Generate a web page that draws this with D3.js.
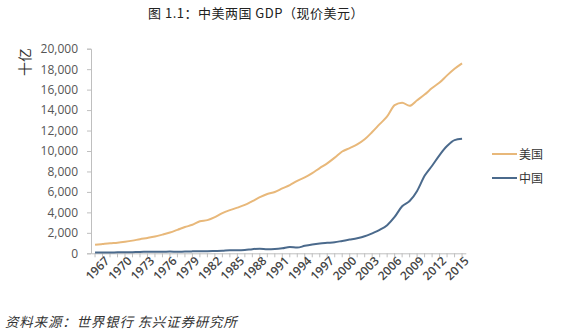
<!DOCTYPE html>
<html><head><meta charset="utf-8">
<script src="https://cdn.jsdelivr.net/npm/d3@7"></script>
<style>body{margin:0;background:#fff}svg{display:block}</style>
</head><body><svg id="c" width="568" height="333"></svg>
<script>
const years = d3.range(1967, 2017);
const usGDP = [832,910,985,1038,1127,1238,1383,1500,1638,1825,2031,2295,2566,2788,3127,3240,3536,3931,4218,4460,4736,5100,5482,5801,5992,6342,6667,7085,7415,7839,8332,8794,9354,9952,10286,10642,11142,11853,12623,13377,14478,14719,14419,14964,15518,16155,16692,17393,18037,18569];
const cnGDP = [72,70,79,92,99,112,137,142,161,152,172,148,177,189,194,203,229,257,307,298,324,404,451,395,413,488,613,559,728,856,953,1020,1083,1211,1339,1471,1660,1955,2286,2752,3552,4598,5110,6101,7573,8561,9607,10482,11065,11191];
const yTicks = [0,2000,4000,6000,8000,10000,12000,14000,16000,18000,20000];
const xLabelYears = d3.range(1967, 2017, 3);
const seriesNames = ["美国","中国"];
const colors = ["#E8B87A","#4B6A8C"];

const svg = d3.select("#c");
const x = d3.scaleBand().domain(years).range([91.3, 465.8]);
const y = d3.scaleLinear().domain([0,20000]).range([253.3, 48.7]);
const cx = d => x(d) + x.bandwidth()/2;

svg.append("text").attr("x",256).attr("y",18).attr("text-anchor","middle")
  .attr("font-family","'Noto Sans CJK SC'").attr("font-size",13).attr("letter-spacing",0.5).attr("fill","#222")
  .text("图 1.1：中美两国 GDP（现价美元）");

// y axis
const ya = svg.append("g").attr("transform","translate(91,0)")
  .call(d3.axisLeft(y).tickValues(yTicks).tickFormat(d3.format(",")).tickSize(4).tickPadding(9));
ya.select(".domain").attr("stroke","#bfbfbf");
ya.selectAll(".tick line").attr("stroke","#bfbfbf");
ya.selectAll("text").attr("font-family","'Open Sans', sans-serif").attr("font-size",12).attr("fill","#555");

// x axis
const xa = svg.append("g").attr("transform","translate(0,253.3)")
  .call(d3.axisBottom(x).tickSize(4).tickSizeOuter(0).tickFormat(d => xLabelYears.includes(d) ? d : ""));
xa.select(".domain").attr("stroke","#bfbfbf");
xa.selectAll(".tick line").attr("stroke","#bfbfbf");
xa.selectAll("text").attr("font-family","'Open Sans', sans-serif").attr("font-size",12).attr("font-weight","600").attr("fill","#444")
  .attr("text-anchor","end").attr("dx","0.4em").attr("dy","0.8em").attr("transform","rotate(-45)");

svg.append("text").attr("transform","translate(30,62) rotate(-90)").attr("text-anchor","middle")
  .attr("font-family","'Noto Sans CJK SC'").attr("font-size",14).attr("fill","#333").text("十亿");

const line = d3.line().x((d,i)=>cx(years[i])).y(d=>y(d)).curve(d3.curveMonotoneX);
[usGDP, cnGDP].forEach((s,i) => {
  svg.append("path").datum(s).attr("d",line).attr("fill","none").attr("stroke",colors[i]).attr("stroke-width",2);
});

// legend
const lg = svg.append("g");
seriesNames.forEach((n,i) => {
  const yy = 154 + i*24;
  lg.append("line").attr("x1",492).attr("x2",517).attr("y1",yy).attr("y2",yy).attr("stroke",colors[i]).attr("stroke-width",2);
  lg.append("text").attr("x",519).attr("y",yy+4.5).attr("font-family","'Noto Sans CJK SC'").attr("font-size",12).attr("fill","#333").text(n);
});

svg.append("text").attr("x",5).attr("y",327).attr("font-family","'Noto Sans CJK SC'").attr("font-size",13.5)
  .attr("letter-spacing",0.8).attr("font-style","italic").attr("fill","#333").text("资料来源：世界银行 东兴证券研究所");
</script></body></html>
